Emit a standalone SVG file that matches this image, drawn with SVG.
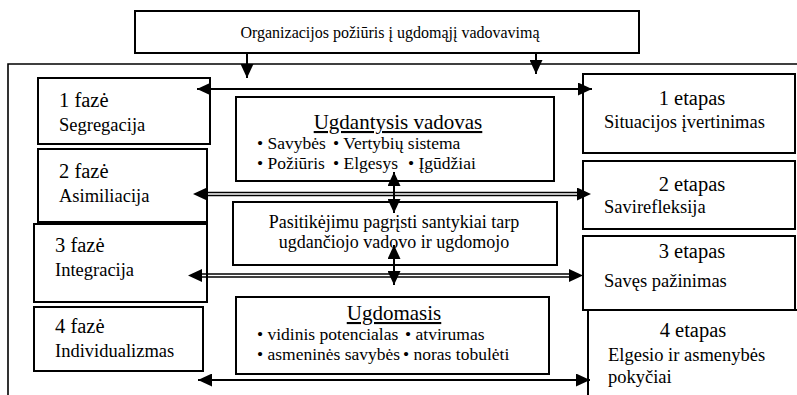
<svg xmlns="http://www.w3.org/2000/svg" width="797" height="395" viewBox="0 0 797 395" font-family="'Liberation Serif', 'Times New Roman', serif">
  <style>
    .box { fill: #ffffff; stroke: #000000; stroke-width: 2; }
    .frame { fill: none; stroke: #000000; stroke-width: 1.6; }
    .link { fill: none; stroke: #000000; stroke-width: 2; }
    .thin { fill: none; stroke: #000000; stroke-width: 1.3; }
    .tips { fill: none; stroke: none; }
    .head { font-size: 20.5px; }
    .sub { font-size: 18.5px; }
    .small { font-size: 16px; }
    .title { font-size: 21px; text-decoration: underline; }
    .bul { font-size: 17.5px; }
    .mid { font-size: 18px; }
  </style>
  <defs>
    <marker id="ah" viewBox="0 0 14 13" refX="14" refY="6.5" markerWidth="14" markerHeight="13" markerUnits="userSpaceOnUse" orient="auto-start-reverse">
      <path d="M0,0 L14,6.5 L0,13 z" fill="#000000"/>
    </marker>
  </defs>

  <rect width="797" height="395" fill="#ffffff"/>

  <!-- outer frame: top and left sides only -->
  <path class="frame" d="M8,395 V64 H797"/>

  <g id="organizacija">
    <rect class="box" x="135" y="11" width="504" height="42"/>
    <text class="small" x="390" y="38" text-anchor="middle">Organizacijos požiūris į ugdomąjį vadovavimą</text>
  </g>

  <g id="faze1">
    <rect class="box" x="38" y="78" width="172" height="66"/>
    <text class="head" x="59" y="107">1 fazė</text>
    <text class="sub" x="59" y="131">Segregacija</text>
  </g>
  <g id="faze2">
    <rect class="box" x="38" y="149" width="169" height="73"/>
    <text class="head" x="59" y="178">2 fazė</text>
    <text class="sub" x="59" y="202">Asimiliacija</text>
  </g>
  <g id="faze3">
    <rect class="box" x="34" y="224" width="173" height="78"/>
    <text class="head" x="55" y="252">3 fazė</text>
    <text class="sub" x="55" y="276">Integracija</text>
  </g>
  <g id="faze4">
    <rect class="box" x="34" y="307" width="169" height="64"/>
    <text class="head" x="55" y="333">4 fazė</text>
    <text class="sub" x="55" y="357">Individualizmas</text>
  </g>

  <g id="etapas1">
    <rect class="box" x="583" y="74" width="212" height="79"/>
    <text class="head" x="692" y="105" text-anchor="middle">1 etapas</text>
    <text class="sub" x="604" y="128">Situacijos įvertinimas</text>
  </g>
  <g id="etapas2">
    <rect class="box" x="583" y="161" width="212" height="68"/>
    <text class="head" x="692" y="191" text-anchor="middle">2 etapas</text>
    <text class="sub" x="604" y="213">Savirefleksija</text>
  </g>
  <g id="etapas3">
    <rect class="box" x="583" y="236" width="212" height="74"/>
    <text class="head" x="692" y="258" text-anchor="middle">3 etapas</text>
    <text class="sub" x="604" y="287">Savęs pažinimas</text>
  </g>
  <g id="etapas4">
    <path class="link" d="M588,396 V310 H797"/>
    <text class="head" x="693" y="337" text-anchor="middle">4 etapas</text>
    <text class="sub" x="608" y="361">Elgesio ir asmenybės</text>
    <text class="sub" x="608" y="383">pokyčiai</text>
  </g>

  <g id="ugdantysis">
    <rect class="box" x="236" y="97" width="318" height="84"/>
    <text class="title" x="398" y="129" text-anchor="middle">Ugdantysis vadovas</text>
    <text class="bul" y="149"><tspan x="257">• Savybės</tspan><tspan x="333">• Vertybių sistema</tspan></text>
    <text class="bul" y="169"><tspan x="257">• Požiūris</tspan><tspan x="333">• Elgesys</tspan><tspan x="408">• Įgūdžiai</tspan></text>
  </g>

  <g id="santykiai">
    <rect class="box" x="233" y="202" width="324" height="63"/>
    <text class="mid" x="394" y="228" text-anchor="middle">Pasitikėjimu pagrįsti santykiai tarp</text>
    <text class="mid" x="394" y="248" text-anchor="middle">ugdančiojo vadovo ir ugdomojo</text>
  </g>

  <g id="ugdomasis">
    <rect class="box" x="236" y="297" width="313" height="77"/>
    <text class="title" x="394" y="320" text-anchor="middle">Ugdomasis</text>
    <text class="bul" y="340"><tspan x="257">• vidinis potencialas</tspan><tspan x="405">• atvirumas</tspan></text>
    <text class="bul" y="360"><tspan x="257">• asmeninės savybės</tspan><tspan x="403">• noras tobulėti</tspan></text>
  </g>

  <g id="connectors">
    <line class="link" x1="247" y1="53" x2="247" y2="78" marker-end="url(#ah)"/>
    <line class="link" x1="536" y1="53" x2="536" y2="74" marker-end="url(#ah)"/>
    <line class="link" x1="197" y1="89" x2="592" y2="89" marker-start="url(#ah)" marker-end="url(#ah)"/>
    <!-- rows 2 and 3: double-ruled shafts with arrowheads at both ends -->
    <path class="thin" d="M206,192.5 H578 M206,195.5 H578"/>
    <line class="tips" x1="193" y1="194" x2="591" y2="194" marker-start="url(#ah)" marker-end="url(#ah)"/>
    <path class="thin" d="M201,274 H570 M201,277 H570"/>
    <line class="tips" x1="188" y1="275.5" x2="583" y2="275.5" marker-start="url(#ah)" marker-end="url(#ah)"/>
    <line class="link" x1="198" y1="380" x2="590" y2="380" stroke-width="2.5" marker-start="url(#ah)" marker-end="url(#ah)"/>
    <line class="link" x1="394" y1="172" x2="394" y2="213" marker-start="url(#ah)" marker-end="url(#ah)"/>
    <line class="link" x1="394" y1="245" x2="394" y2="285" marker-start="url(#ah)" marker-end="url(#ah)"/>
  </g>
</svg>
